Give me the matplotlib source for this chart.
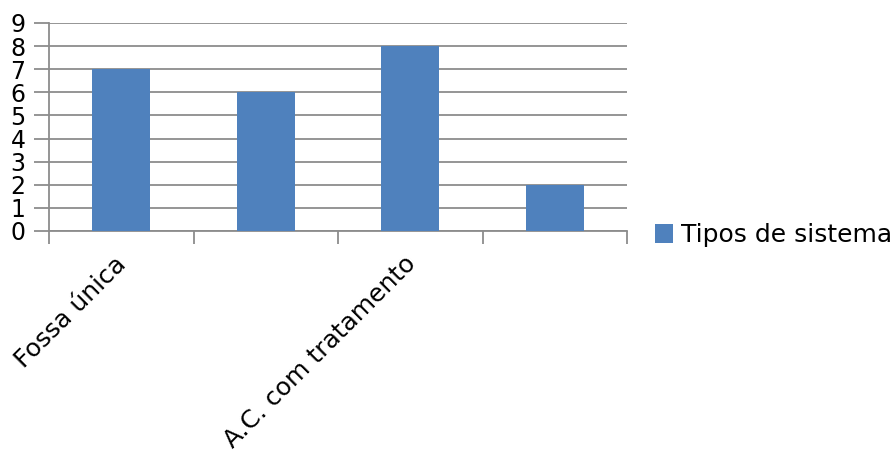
import matplotlib.pyplot as plt
import matplotlib.transforms as mtransforms
import numpy as np

# data
categories = ["Fossa única", "", "A.C. com tratamento", ""]
values = [7, 6, 8, 2]
series_name = "Tipos de sistema"

bar_color = "#4f81bd"
grid_color = "#8c8c8c"

fig = plt.figure(figsize=(8.94, 4.54), dpi=100)
ax = fig.add_axes([49/894, 1 - 231/454, (627-49)/894, (231-23)/454])

x = np.arange(len(values))
ax.bar(x, values, width=0.4, color=bar_color, label=series_name, zorder=3)

ax.set_xlim(-0.5, len(values) - 0.5)
ax.set_ylim(0, 9)
ax.set_yticks(range(0, 10))
ax.yaxis.grid(True, color=grid_color, linewidth=1.3, zorder=0)
ax.tick_params(axis='y', length=11, width=1.3, color=grid_color, labelsize=17, pad=6)

# boundaries get the tick marks, centres get the labels
ax.set_xticks(np.arange(len(values) + 1) - 0.5)
ax.set_xticklabels([])
ax.tick_params(axis='x', which='major', length=9, width=1.3, color=grid_color)
ax.set_xticks(x, minor=True)
ax.set_xticklabels(categories, minor=True, rotation=45, ha='right', va='top',
                   rotation_mode='anchor', fontsize=18)
ax.tick_params(axis='x', which='minor', length=0, pad=10)
# nudge labels a bit down-left like the original
shift = mtransforms.ScaledTranslation(-7/100, -7/100, fig.dpi_scale_trans)
for lab in ax.get_xticklabels(minor=True):
    lab.set_transform(lab.get_transform() + shift)

for s in ['top', 'right']:
    ax.spines[s].set_visible(False)
for s in ['left', 'bottom']:
    ax.spines[s].set_color(grid_color)
    ax.spines[s].set_linewidth(1.3)

fig.legend(loc='center left', bbox_to_anchor=(0.707, 0.482), frameon=False,
           fontsize=18, handlelength=0.75, handleheight=0.75, handletextpad=0.3)

fig.savefig("out.png", dpi=100)
